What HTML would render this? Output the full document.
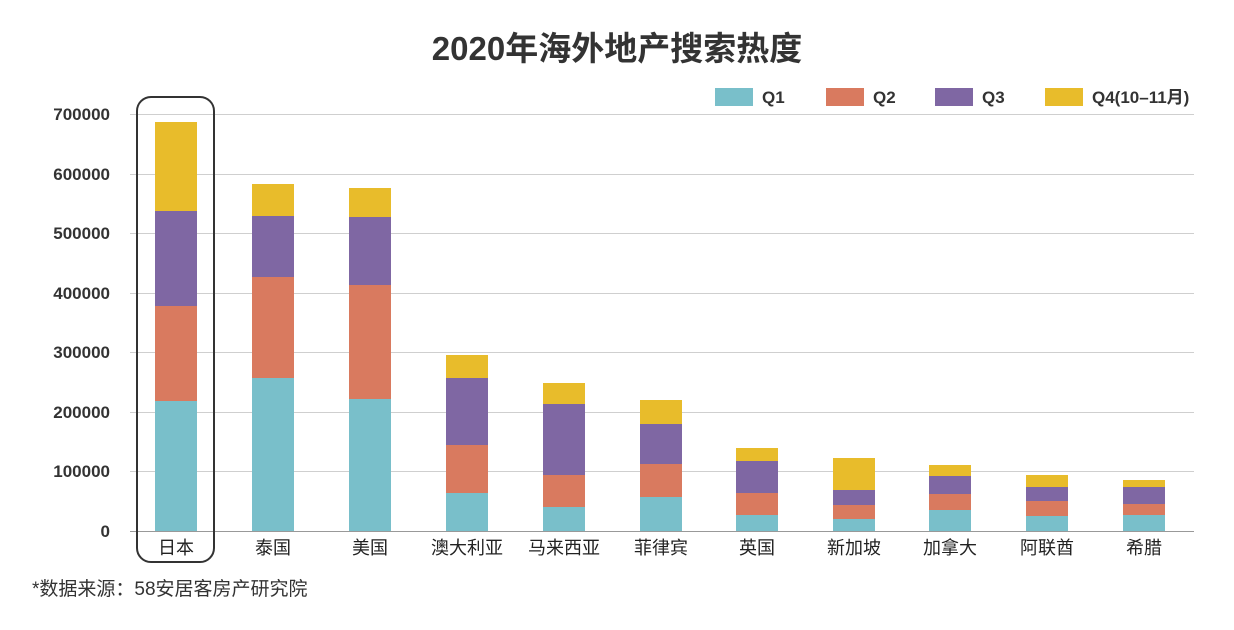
<!DOCTYPE html>
<html><head><meta charset="utf-8"><style>
body{margin:0;background:#fff;}
svg text{font-family:"Liberation Sans","Noto Sans CJK SC",sans-serif;}
</style></head><body>
<svg width="1234" height="625" xmlns="http://www.w3.org/2000/svg">
<rect width="1234" height="625" fill="#fff"/>
<text x="617" y="60" text-anchor="middle" font-size="33" font-weight="bold" fill="#333">2020年海外地产搜索热度</text>
<g stroke="#cfcfcf" stroke-width="1">
<line x1="130" x2="1194" y1="114.5" y2="114.5"/><line x1="130" x2="1194" y1="174.5" y2="174.5"/>
<line x1="130" x2="1194" y1="233.5" y2="233.5"/><line x1="130" x2="1194" y1="293.5" y2="293.5"/>
<line x1="130" x2="1194" y1="352.5" y2="352.5"/><line x1="130" x2="1194" y1="412.5" y2="412.5"/>
<line x1="130" x2="1194" y1="471.5" y2="471.5"/><line x1="130" x2="1194" y1="531.5" y2="531.5" stroke="#999"/>
</g>
<g font-size="17" fill="#333" text-anchor="end" font-weight="600">
<text x="110" y="120">700000</text><text x="110" y="180">600000</text><text x="110" y="239">500000</text>
<text x="110" y="299">400000</text><text x="110" y="358">300000</text><text x="110" y="418">200000</text>
<text x="110" y="477">100000</text><text x="110" y="537">0</text>
</g>
<g fill="#79bfca">
<rect x="155" y="401" width="42" height="130"/><rect x="252" y="378" width="42" height="153"/>
<rect x="349" y="399" width="42" height="132"/><rect x="446" y="493" width="42" height="38"/>
<rect x="543" y="507" width="42" height="24"/><rect x="640" y="497" width="42" height="34"/>
<rect x="736" y="515" width="42" height="16"/><rect x="833" y="519" width="42" height="12"/>
<rect x="929" y="510" width="42" height="21"/><rect x="1026" y="516" width="42" height="15"/>
<rect x="1123" y="515" width="42" height="16"/>
</g>
<g fill="#d97a5f">
<rect x="155" y="306" width="42" height="95"/><rect x="252" y="277" width="42" height="101"/>
<rect x="349" y="285" width="42" height="114"/><rect x="446" y="445" width="42" height="48"/>
<rect x="543" y="475" width="42" height="32"/><rect x="640" y="464" width="42" height="33"/>
<rect x="736" y="493" width="42" height="22"/><rect x="833" y="505" width="42" height="14"/>
<rect x="929" y="494" width="42" height="16"/><rect x="1026" y="501" width="42" height="15"/>
<rect x="1123" y="504" width="42" height="11"/>
</g>
<g fill="#7f67a3">
<rect x="155" y="211" width="42" height="95"/><rect x="252" y="216" width="42" height="61"/>
<rect x="349" y="217" width="42" height="68"/><rect x="446" y="378" width="42" height="67"/>
<rect x="543" y="404" width="42" height="71"/><rect x="640" y="424" width="42" height="40"/>
<rect x="736" y="461" width="42" height="32"/><rect x="833" y="490" width="42" height="15"/>
<rect x="929" y="476" width="42" height="18"/><rect x="1026" y="487" width="42" height="14"/>
<rect x="1123" y="487" width="42" height="17"/>
</g>
<g fill="#e8bc2b">
<rect x="155" y="122" width="42" height="89"/><rect x="252" y="184" width="42" height="32"/>
<rect x="349" y="188" width="42" height="29"/><rect x="446" y="355" width="42" height="23"/>
<rect x="543" y="383" width="42" height="21"/><rect x="640" y="400" width="42" height="24"/>
<rect x="736" y="448" width="42" height="13"/><rect x="833" y="458" width="42" height="32"/>
<rect x="929" y="465" width="42" height="11"/><rect x="1026" y="475" width="42" height="12"/>
<rect x="1123" y="480" width="42" height="7"/>
</g>
<rect x="137" y="97" width="77" height="465" rx="14" fill="none" stroke="#333" stroke-width="2"/>
<g font-size="18" fill="#222" text-anchor="middle">
<text x="176" y="554">日本</text><text x="273" y="554">泰国</text><text x="370" y="554">美国</text>
<text x="467" y="554">澳大利亚</text><text x="564" y="554">马来西亚</text><text x="661" y="554">菲律宾</text>
<text x="757" y="554">英国</text><text x="854" y="554">新加坡</text><text x="950" y="554">加拿大</text>
<text x="1047" y="554">阿联酋</text><text x="1144" y="554">希腊</text>
</g>
<g font-size="17" fill="#333" font-weight="600">
<rect x="715" y="88" width="38" height="18" fill="#79bfca"/><text x="762" y="103">Q1</text>
<rect x="826" y="88" width="38" height="18" fill="#d97a5f"/><text x="873" y="103">Q2</text>
<rect x="935" y="88" width="38" height="18" fill="#7f67a3"/><text x="982" y="103">Q3</text>
<rect x="1045" y="88" width="38" height="18" fill="#e8bc2b"/><text x="1092" y="103">Q4(10–11月)</text>
</g>
<text x="32" y="595" font-size="19" fill="#333">*数据来源：58安居客房产研究院</text>
</svg>
</body></html>
